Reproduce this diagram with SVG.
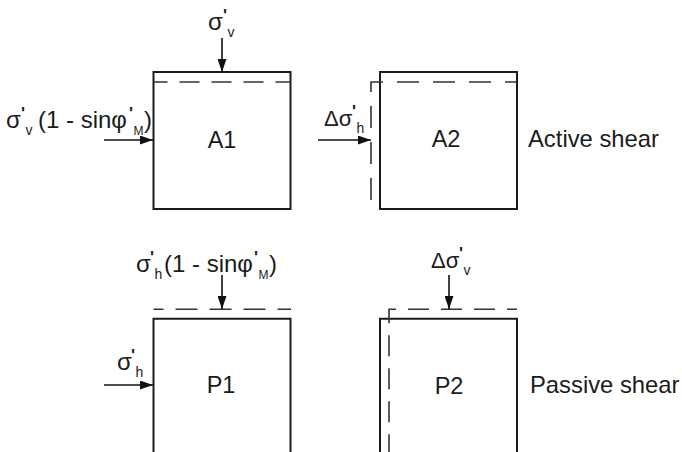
<svg xmlns="http://www.w3.org/2000/svg" width="682" height="452" viewBox="0 0 682 452">
<defs>
<marker id="ah" markerUnits="userSpaceOnUse" markerWidth="13" markerHeight="9" refX="13" refY="4.5" orient="auto">
<path d="M0,0 L13,4.5 L0,9 z" fill="#111"/>
</marker>
<style>
.box{fill:none;stroke:#1b1b1b;stroke-width:2}
.dash{fill:none;stroke:#333;stroke-width:1.6}
.t{font-family:"Liberation Sans",Arial,sans-serif;font-size:22px;fill:#1b1b1b}
.L{font-size:24px}
.p{font-size:17px;font-weight:bold}
.s{font-size:14px}
.m{font-size:12px}
.n{font-size:23.5px;text-anchor:middle}
.arr{fill:none;stroke:#111;stroke-width:1.6;marker-end:url(#ah)}
</style>
</defs>
<rect width="682" height="452" fill="#fff"/>

<g id="A1">
<rect class="box" x="153.5" y="72" width="137" height="137"/>
<line class="dash" x1="153.5" y1="82" x2="290.5" y2="82" stroke-dasharray="20 12" stroke-dashoffset="6"/>
<text class="t n" x="222" y="148">A1</text>
</g>

<g id="A2">
<rect class="box" x="380" y="72" width="137" height="137"/>
<path class="dash" d="M517,82 H371 V209" stroke-dasharray="22 14" stroke-dashoffset="10"/>
<text class="t n" x="446" y="147">A2</text>
<text class="t" x="528" y="147" style="font-size:23.8px">Active shear</text>
</g>

<g id="P1">
<path class="box" d="M153.5,460 V318.7 H290.5 V460"/>
<line class="dash" x1="153.5" y1="309.3" x2="291" y2="309.3" stroke-dasharray="22 12" stroke-dashoffset="12"/>
<text class="t n" x="221" y="393">P1</text>
</g>

<g id="P2">
<path class="box" d="M380,460 V318.7 H517 V460"/>
<path class="dash" d="M517,309.3 H389 V460" stroke-dasharray="21 12" stroke-dashoffset="11"/>
<text class="t n" x="449" y="394">P2</text>
<text class="t" x="530" y="393" style="font-size:23.8px">Passive shear</text>
</g>

<g id="connectors">
<path class="arr" d="M222,38 V72"/>
<path class="arr" d="M104,140 H153"/>
<path class="arr" d="M318,140 H371"/>
<path class="arr" d="M222,275 V309"/>
<path class="arr" d="M104,385 H153"/>
<path class="arr" d="M449,275 V309"/>
</g>

<g id="labels">
<text id="lbl-A1-top" class="t L" x="208" y="30">σ<tspan class="p" x="223" y="21">'</tspan><tspan class="s" x="227.5" y="37">v</tspan></text>
<text id="lbl-A1-left" class="t L" x="6" y="128">σ<tspan class="p" x="21" y="119">'</tspan><tspan class="s" x="25.5" y="135">v</tspan><tspan x="38" y="128">(1 - sinφ</tspan><tspan class="p" x="129" y="119">'</tspan><tspan class="m" x="133.5" y="135">M</tspan><tspan x="144" y="128">)</tspan></text>
<text id="lbl-A2-left" class="t" x="324" y="126">Δσ<tspan class="p" x="352" y="117">'</tspan><tspan class="s" x="356.5" y="133">h</tspan></text>
<text id="lbl-P1-top" class="t L" x="136" y="272">σ<tspan class="p" x="150" y="263">'</tspan><tspan class="s" x="154.5" y="279">h</tspan><tspan x="164" y="272">(1 - sinφ</tspan><tspan class="p" x="254" y="263">'</tspan><tspan class="m" x="258.5" y="279">M</tspan><tspan x="269" y="272">)</tspan></text>
<text id="lbl-P1-left" class="t L" x="117" y="370">σ<tspan class="p" x="131" y="361">'</tspan><tspan class="s" x="135.5" y="377">h</tspan></text>
<text id="lbl-P2-top" class="t" x="431" y="268">Δσ<tspan class="p" x="459" y="259">'</tspan><tspan class="s" x="463.5" y="275">v</tspan></text>
</g>
</svg>
